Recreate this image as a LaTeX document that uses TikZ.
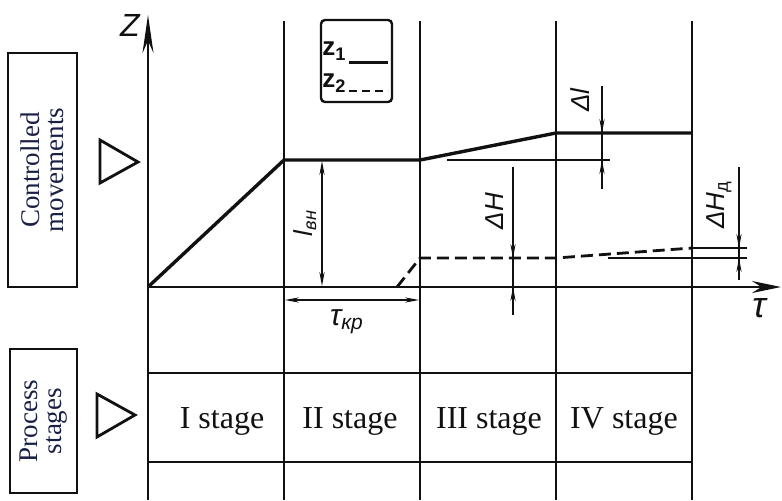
\documentclass[tikz,border=0pt]{standalone}
\usepackage{fontspec}
\setmainfont{Liberation Serif}
\newfontfamily\gostfont{Liberation Sans}
\usepackage{tikz}
\usetikzlibrary{arrows.meta}
\definecolor{bInk}{HTML}{1A2045}
\definecolor{gInk}{HTML}{111111}
\newcommand{\dimfont}{\gostfont\itshape\fontsize{13}{15}\selectfont}

\begin{document}
\begin{tikzpicture}[x=0.5pt, y=-0.5pt, >=Stealth, gInk,
  stageline/.style={line width=0.65pt},
  zline/.style={line width=1.7pt, line join=round},
  axisline/.style={line width=1.2pt},
  refline/.style={line width=0.6pt},
  dimline/.style={line width=0.6pt, -{Stealth[length=7pt, width=2.6pt]}},
  sidebox/.style={draw, line width=1.4pt, text=bInk, rotate=90, align=center, inner sep=0pt,
    font=\fontsize{13.5}{12}\selectfont},
  sidetri/.style={line width=1.4pt, line join=miter},
  stagecell/.style={anchor=base, font=\fontsize{16}{18}\selectfont}]
  \useasboundingbox (0,0) rectangle (782,500);

  % side captions
  \node[sidebox, minimum width=117pt, minimum height=34.5pt] (cm) at (42.5,170) {Controlled\\movements};
  \node[sidebox, minimum width=72pt, minimum height=33.5pt] (ps) at (43.5,421) {Process\\stages};
  \draw[sidetri] (100,140) -- (138,162) -- (100,183) -- cycle;
  \draw[sidetri] (97,394) -- (135,415) -- (97,437) -- cycle;

  % stage boundaries
  \coordinate (o) at (148,287);
  \foreach \x in {284,420,556,692}
    \draw[stageline] (\x,21) -- (\x,500);
  \draw[stageline] (o) -- (148,500);

  % axes
  \draw[axisline, -{Stealth[length=19pt, width=5.5pt]}] (o) -- (148,15) coordinate (ztop);
  \draw[axisline, -{Stealth[length=14.5pt, width=6pt]}] (o) -- (781,287) coordinate (ttop);
  \node[font=\gostfont\itshape\fontsize{16}{18}\selectfont] (zl) at (130,25) {Z};
  \node[font=\gostfont\itshape\fontsize{18}{20}\selectfont] (tl) at (759,308) {τ};

  % curves z1 and z2
  \draw[zline] (o) -- (284,160) -- (420,160) -- (556,133) -- (692,133);
  \draw[zline, line width=1.4pt, dash pattern=on 6pt off 3pt] (397,287) -- (420,258) -- (556,258) -- (692,248);
  \draw[refline] (447,160) -- (610,160);
  \draw[refline] (692,248) -- (747,248);
  \draw[refline] (608,258) -- (747,258);

  % dimensions
  \draw[refline] (602,86) -- (602,189);
  \draw[dimline] (602,100) -- (602,133);
  \draw[dimline] (602,189) -- (602,160);
  \node[rotate=90, font=\dimfont] (dl) at (580,100) {Δl};

  \draw[refline] (513,167) -- (513,315);
  \draw[dimline] (513,220) -- (513,258);
  \draw[dimline] (513,315) -- (513,287);
  \node[rotate=90, font=\dimfont] (dh) at (495,211) {ΔH};

  \draw[refline] (739,167) -- (739,280);
  \draw[dimline] (739,200) -- (739,248);
  \draw[dimline] (739,280) -- (739,258);
  \node[rotate=90, font=\dimfont] (dhd) at (719,205) {ΔH\textsubscript{\upshape д}};

  \draw[dimline, {Stealth[length=7pt, width=2.6pt]}-{Stealth[length=7pt, width=2.6pt]}] (322,161) -- (322,286);
  \node[rotate=90, font=\dimfont] (lvn) at (305,223) {l\textsubscript{вн}};

  \draw[line width=1pt] (284,287) -- (284,308);
  \draw[line width=1pt] (420,287) -- (420,308);
  \draw[dimline, {Stealth[length=7pt, width=2.6pt]}-{Stealth[length=7pt, width=2.6pt]}] (285,300) -- (419,300);
  \node[font=\gostfont\itshape\fontsize{15}{17}\selectfont] (tkr) at (347,322) {τ\textsubscript{кр}};

  % legend
  \draw[line width=1.2pt, rounded corners=2pt] (321,20) rectangle (392,102);
  \node[anchor=west, inner sep=0pt, font=\gostfont\bfseries\fontsize{13}{15}\selectfont] (z1) at (322,51) {z\textsubscript{1}};
  \node[anchor=west, inner sep=0pt, font=\gostfont\bfseries\fontsize{13}{15}\selectfont] (z2) at (322,83) {z\textsubscript{2}};
  \draw[line width=1.5pt] (349,62) -- (388,62);
  \draw[line width=1.3pt, dash pattern=on 4pt off 2.5pt] (349,91) -- (388,91);

  % stage table
  \draw[line width=1.1pt] (148,373) rectangle (692,462);
  \foreach \x in {284,420,556}
    \draw[line width=1pt] (\x,373) -- (\x,462);
  \node[stagecell] (s1) at (222,428) {I stage};
  \node[stagecell] (s2) at (350,428) {II stage};
  \node[stagecell] (s3) at (489,428) {III stage};
  \node[stagecell] (s4) at (624,428) {IV stage};
\end{tikzpicture}
\end{document}
